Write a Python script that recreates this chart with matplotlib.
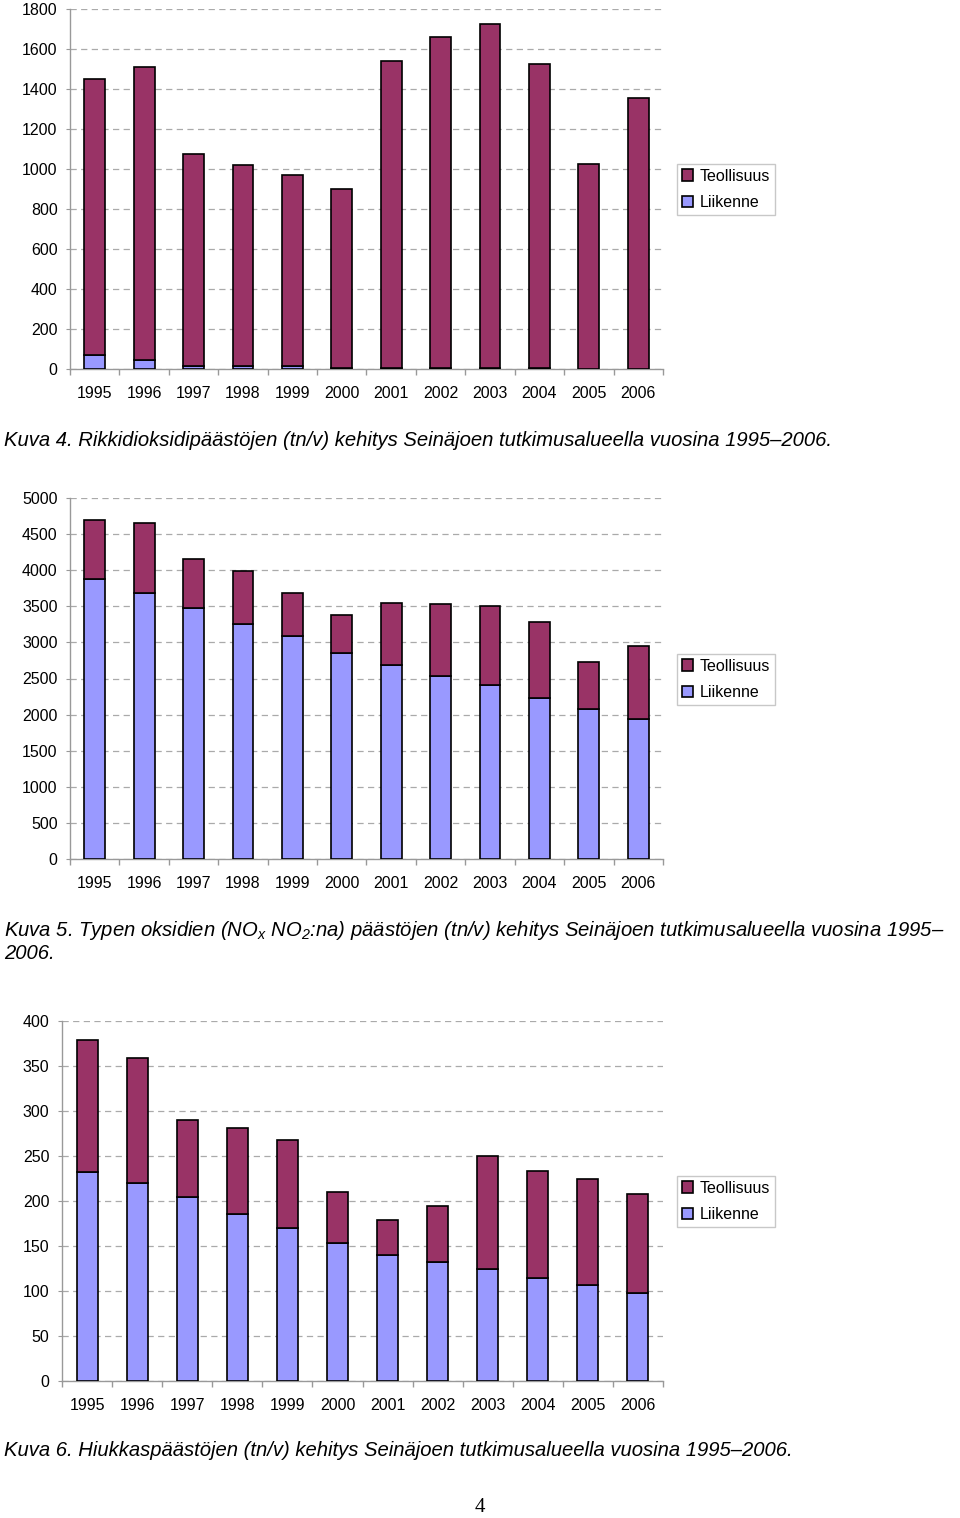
import numpy as np
import matplotlib
matplotlib.use("Agg")
import matplotlib.pyplot as plt

plt.rcParams['font.family'] = ['Liberation Sans', 'DejaVu Sans']
plt.rcParams['mathtext.fontset'] = 'custom'
plt.rcParams['mathtext.rm'] = 'Liberation Sans:italic'
plt.rcParams['mathtext.it'] = 'Liberation Sans:italic'

years = ['1995', '1996', '1997', '1998', '1999', '2000',
         '2001', '2002', '2003', '2004', '2005', '2006']

# Kuva 4: rikkidioksidi (tn/v)
so2_liikenne = [68, 43, 13, 13, 13, 5, 5, 5, 5, 5, 1, 1]
so2_total = [1451, 1508, 1076, 1019, 969, 899, 1538, 1658, 1723, 1527, 1026, 1355]

# Kuva 5: typen oksidit (tn/v)
nox_liikenne = [3880, 3681, 3472, 3259, 3083, 2856, 2690, 2532, 2412, 2236, 2074, 1940]
nox_total = [4690, 4657, 4157, 3991, 3685, 3384, 3542, 3528, 3509, 3282, 2731, 2944]

# Kuva 6: hiukkaset (tn/v)
pm_liikenne = [232, 220, 204, 186, 170, 153.5, 140.5, 132, 125, 114, 107, 98]
pm_total = [379, 359, 290, 281, 268, 209.5, 179, 194, 250.5, 233.5, 225, 208]

captions = [
    "Kuva 4. Rikkidioksidipäästöjen (tn/v) kehitys Seinäjoen tutkimusalueella vuosina 1995–2006.",
    "Kuva 5. Typen oksidien (NO$_x$ NO$_2$:na) päästöjen (tn/v) kehitys Seinäjoen tutkimusalueella vuosina 1995–\n2006.",
    "Kuva 6. Hiukkaspäästöjen (tn/v) kehitys Seinäjoen tutkimusalueella vuosina 1995–2006.",
]

W, H = 960, 1518
fig = plt.figure(figsize=(W / 100, H / 100), dpi=100)

c_teol = '#993366'
c_liik = '#9999ff'
gray = '#999999'


def px_axes(left, top, right, bottom):
    return fig.add_axes([left / W, 1 - bottom / H, (right - left) / W, (bottom - top) / H])


def draw(ax, liik, total, ymax, step, legend_y):
    x = np.arange(len(years))
    teol = np.array(total) - np.array(liik)
    ax.bar(x, liik, width=0.42, color=c_liik, edgecolor='black', linewidth=1.2, label='Liikenne', zorder=3)
    ax.bar(x, teol, bottom=liik, width=0.42, color=c_teol, edgecolor='black', linewidth=1.2,
           label='Teollisuus', zorder=3)
    ax.set_xlim(-0.5, len(years) - 0.5)
    ax.set_ylim(0, ymax)
    ax.set_yticks(np.arange(0, ymax + 1, step))
    ax.set_xticks(x)
    ax.set_xticklabels(years)
    ax.set_xticks(np.arange(-0.5, len(years)), minor=True)
    ax.tick_params(axis='x', which='major', length=0, pad=12, labelsize=11.5)
    ax.tick_params(axis='x', which='minor', length=4, color=gray, width=1)
    ax.tick_params(axis='y', length=3, color=gray, pad=6, labelsize=11.5)
    for s in ['top', 'right']:
        ax.spines[s].set_visible(False)
    for s in ['left', 'bottom']:
        ax.spines[s].set_color(gray)
        ax.spines[s].set_linewidth(1)
    ax.yaxis.grid(True, color='#aaaaaa', linestyle=(0, (5, 3.5)), linewidth=0.9, zorder=0)
    ax.set_axisbelow(True)
    h, l = ax.get_legend_handles_labels()
    leg = fig.legend(h[::-1], l[::-1], loc='center left',
                     bbox_to_anchor=(677 / W, 1 - legend_y / H),
                     fontsize=11.5, frameon=True, fancybox=False, edgecolor='#bbbbbb',
                     handlelength=0.7, handleheight=0.7, handletextpad=0.4,
                     borderpad=0.3, labelspacing=0.75, borderaxespad=0)
    leg.get_frame().set_linewidth(1)


ax1 = px_axes(70, 9, 663, 369)
draw(ax1, so2_liikenne, so2_total, 1800, 200, 189.5)
ax2 = px_axes(70, 498, 663, 859)
draw(ax2, nox_liikenne, nox_total, 5000, 500, 679.5)
ax3 = px_axes(62, 1021, 663, 1381)
draw(ax3, pm_liikenne, pm_total, 400, 50, 1201.5)

cap_size = 14.6
fig.text(4 / W, 1 - 440 / H, captions[0], fontsize=cap_size, style='italic', va='center', ha='left')
fig.text(4 / W, 1 - 919 / H, captions[1], fontsize=cap_size, style='italic', va='top', ha='left',
         linespacing=1.12)
fig.text(4 / W, 1 - 1451 / H, captions[2], fontsize=cap_size, style='italic', va='center', ha='left')

fig.text(480 / W, 1 - 1507 / H, '4', fontsize=15, family='Liberation Serif', ha='center', va='center')

fig.savefig('out.png', dpi=100)
